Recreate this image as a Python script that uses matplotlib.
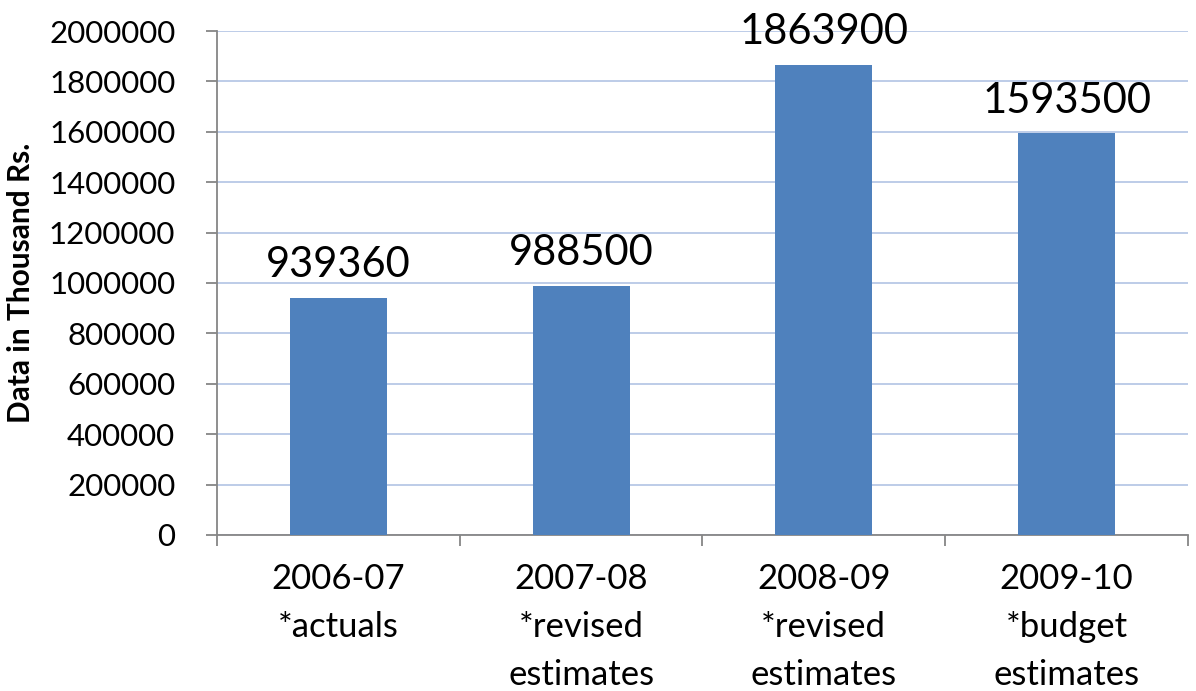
import matplotlib
matplotlib.use("Agg")
import matplotlib.pyplot as plt
from matplotlib.ticker import FixedLocator, NullFormatter

# Revenue data (thousand rupees)
years = ["2006-07", "2007-08", "2008-09", "2009-10"]
kinds = ["*actuals", "*revised\nestimates", "*revised\nestimates", "*budget\nestimates"]
values = [939360, 988500, 1863900, 1593500]
y_ticks = [0, 200000, 400000, 600000, 800000, 1000000, 1200000, 1400000,
           1600000, 1800000, 2000000]
y_label = "Data in Thousand Rs."

plt.rcParams["font.family"] = ["Lato", "DejaVu Sans"]

fig = plt.figure(figsize=(11.96, 6.91), dpi=100)
ax = fig.add_axes([0.1814, 0.2258, 0.9933 - 0.1814, 0.9551 - 0.2258])

x = list(range(len(values)))
ax.bar(x, values, width=0.4, color="#4f81bd", zorder=3)

ax.set_xlim(-0.5, len(values) - 0.5)
ax.set_ylim(0, 2000000)

ax.set_yticks(y_ticks)
ax.set_yticklabels([str(v) for v in y_ticks], fontsize=22.5)
ax.yaxis.grid(True, color="#b7c8e6", linewidth=1.3, zorder=0)

# category labels centred, tick marks between categories
ax.set_xticks(x)
ax.set_xticklabels([f"{y}\n{k}" for y, k in zip(years, kinds)],
                   fontsize=25, linespacing=1.62)
ax.tick_params(axis="x", which="major", length=0, pad=20)
ax.xaxis.set_minor_locator(FixedLocator([i - 0.5 for i in range(len(values) + 1)]))
ax.xaxis.set_minor_formatter(NullFormatter())
ax.tick_params(axis="x", which="minor", length=8, width=1.3, color="#868686")
ax.tick_params(axis="y", length=8, width=1.3, color="#868686", pad=22)

for s in ["top", "right"]:
    ax.spines[s].set_visible(False)
for s in ["left", "bottom"]:
    ax.spines[s].set_color("#868686")
    ax.spines[s].set_linewidth(1.3)

ax.set_ylabel(y_label, fontsize=21.5, fontweight="bold")
ax.yaxis.set_label_coords(-0.1874, 0.5)

for xi, v in zip(x, values):
    ax.annotate(str(v), (xi, v), xytext=(0, 10), textcoords="offset points",
                ha="center", va="bottom", fontsize=30)

fig.savefig("out.png", dpi=100)
